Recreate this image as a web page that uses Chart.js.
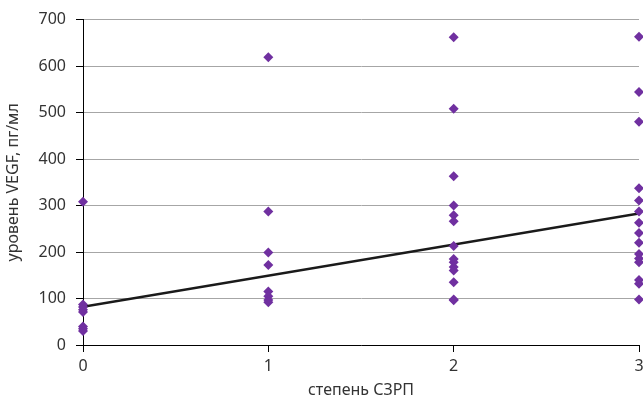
<!DOCTYPE html>
<html>
<head>
<meta charset="utf-8">
<script src="https://cdn.jsdelivr.net/npm/chart.js@4.4.0/dist/chart.umd.min.js"></script>
<style>
  html, body { margin: 0; padding: 0; background: #fff; overflow: hidden; }
  #wrap { width: 660px; height: 401px; }
</style>
</head>
<body>
<div id="wrap"><canvas id="chart" width="660" height="401"></canvas></div>
<script>
// VEGF level by grade (x = степень СЗРП)
const grade0 = [308, 87, 82, 76, 71, 40, 35, 30];
const grade1 = [619, 287, 199, 172, 115, 105, 97, 92];
const grade2 = [662, 508, 363, 300, 279, 266, 213, 185, 178, 168, 160, 135, 98, 96];
const grade3 = [663, 544, 480, 337, 311, 287, 263, 241, 220, 196, 186, 178, 140, 132, 98];

// linear trend line ends
const trendX = [0, 3];
const trendY = [82, 283];

const yTicks = [0, 100, 200, 300, 400, 500, 600, 700];
const xTicks = [0, 1, 2, 3];

const xTitle = 'степень СЗРП';
const yTitle = 'уровень VEGF, пг/мл';

const purple = '#7030a0';
const fontFamily = '"Noto Sans", "Open Sans", sans-serif';

function toPoints(x, values) {
    return values.map(v => ({ x: x, y: v }));
}

const scatterData = []
    .concat(toPoints(0, grade0))
    .concat(toPoints(1, grade1))
    .concat(toPoints(2, grade2))
    .concat(toPoints(3, grade3));

const trendData = trendX.map((x, i) => ({ x: x, y: trendY[i] }));

const ctx = document.getElementById('chart').getContext('2d');

new Chart(ctx, {
    type: 'scatter',
    data: {
        datasets: [{
            label: 'trend',
            type: 'line',
            data: trendData,
            borderColor: '#1a1a1a',
            borderWidth: 2.5,
            pointRadius: 0,
            fill: false,
            order: 1
        }, {
            label: 'VEGF',
            data: scatterData,
            clip: false,
            pointStyle: 'rectRot',
            pointRadius: 5,
            pointBackgroundColor: purple,
            pointBorderColor: purple,
            pointBorderWidth: 0,
            order: 0
        }]
    },
    options: {
        responsive: false,
        animation: false,
        layout: {
            padding: { top: 17, right: 21, bottom: 0, left: 0 }
        },
        plugins: {
            legend: { display: false },
            tooltip: { enabled: false }
        },
        scales: {
            x: {
                type: 'linear',
                min: 0,
                max: 3,
                afterBuildTicks: scale => {
                    scale.ticks = xTicks.map(v => ({ value: v }));
                },
                afterFit: scale => { scale.height = 56; },
                grid: {
                    drawOnChartArea: false,
                    color: '#000',
                    tickLength: 7,
                    tickColor: '#000'
                },
                border: { color: '#000', width: 1 },
                ticks: {
                    color: '#333',
                    padding: 5,
                    font: { family: fontFamily, size: 16 }
                },
                title: {
                    display: true,
                    text: xTitle,
                    color: '#333',
                    padding: { top: 0, bottom: 1 },
                    font: { family: fontFamily, size: 16 }
                }
            },
            y: {
                min: 0,
                max: 700,
                afterBuildTicks: scale => {
                    scale.ticks = yTicks.map(v => ({ value: v }));
                },
                afterFit: scale => { scale.width = 83; },
                grid: {
                    color: '#a6a6a6',
                    lineWidth: 1,
                    tickLength: 7,
                    tickColor: '#000'
                },
                border: { color: '#000', width: 1 },
                ticks: {
                    color: '#333',
                    padding: 10,
                    font: { family: fontFamily, size: 16 }
                },
                title: {
                    display: true,
                    text: yTitle,
                    color: '#333',
                    padding: { top: 4, bottom: 0 },
                    font: { family: fontFamily, size: 16 }
                }
            }
        }
    }
});
</script>
</body>
</html>
